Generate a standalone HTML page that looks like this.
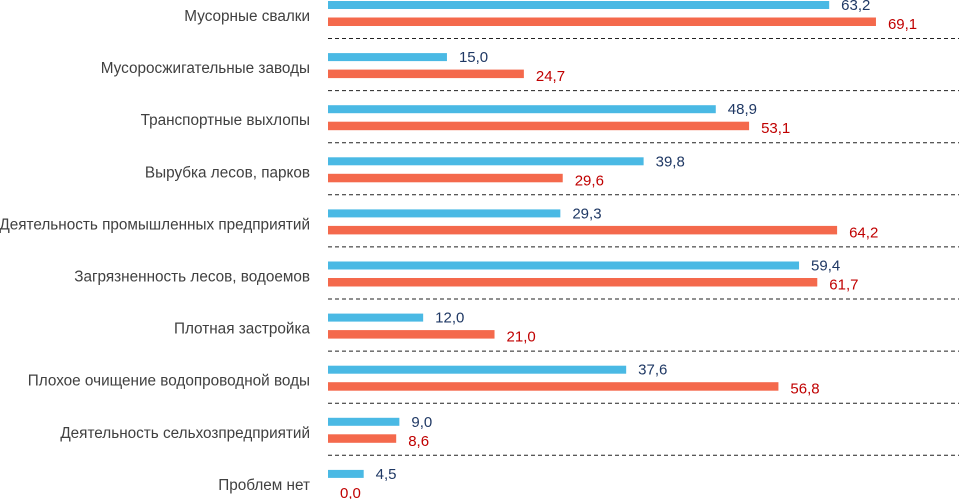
<!DOCTYPE html>
<html><head><meta charset="utf-8"><style>
html,body{margin:0;padding:0;background:#fff;width:959px;height:499px;overflow:hidden}
svg{display:block;font-family:"Liberation Sans",sans-serif}
</style></head><body>
<svg id="chart" width="959" height="499" xmlns="http://www.w3.org/2000/svg"></svg>
<script>
const categories = ["Мусорные свалки","Мусоросжигательные заводы","Транспортные выхлопы","Вырубка лесов, парков","Деятельность промышленных предприятий","Загрязненность лесов, водоемов","Плотная застройка","Плохое очищение водопроводной воды","Деятельность сельхозпредприятий","Проблем нет"];
const seriesBlue = [63.2,15.0,48.9,39.8,29.3,59.4,12.0,37.6,9.0,4.5];
const seriesOrange = [69.1,24.7,53.1,29.6,64.2,61.7,21.0,56.8,8.6,0.0];
const svg = document.getElementById('chart');
const NS = 'http://www.w3.org/2000/svg';
const x0 = 328, k = 7.93;
const xs = v => x0 + v * k;
const rowY = i => 1 + i * 52.1;
const fmt = v => v.toFixed(1).replace('.', ',');
function mk(tag, attrs){const e=document.createElementNS(NS,tag);for(const a in attrs)e.setAttribute(a,attrs[a]);svg.appendChild(e);return e;}
categories.forEach((c,i)=>{
  const y = rowY(i);
  const lab = mk('text',{x:310,y:y+20,'text-anchor':'end','font-size':'15.3',fill:'#404040'});
  lab.textContent = c;
  
  
  const b = mk('rect',{x:x0,y:y,width:xs(seriesBlue[i])-x0,height:8,fill:'#4ab9e4'});
  
  
  const bt = mk('text',{x:xs(seriesBlue[i])+12,y:y+9,'font-size':'15',fill:'#1f3864'});
  bt.textContent = fmt(seriesBlue[i]);
  
  
  const o = mk('rect',{x:x0,y:y+16.5,width:xs(seriesOrange[i])-x0,height:8.5,fill:'#f4694c'});
  
  
  const ot = mk('text',{x:xs(seriesOrange[i])+12,y:y+28,'font-size':'15',fill:'#c00000'});
  ot.textContent = fmt(seriesOrange[i]);
  
  
  if(i<categories.length-1){
    const l = mk('line',{x1:x0,x2:959,y1:y+37.5,y2:y+37.5,stroke:'#222','stroke-width':1,'stroke-dasharray':'4,3'});
    
    
  }
});
</script>
</body></html>
